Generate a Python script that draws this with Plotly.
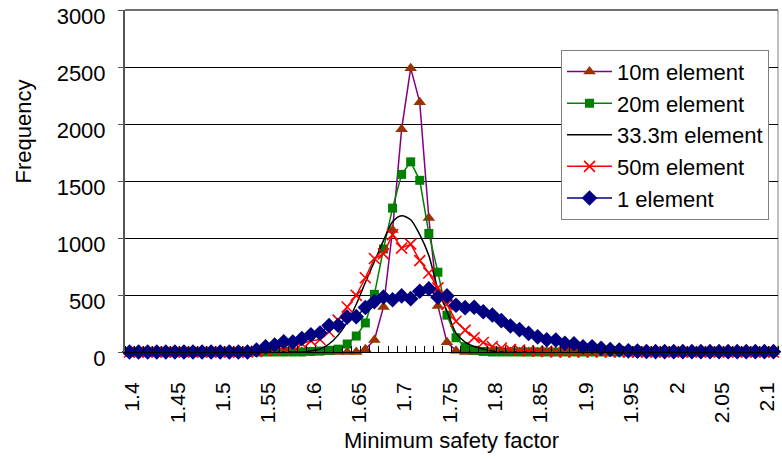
import plotly.graph_objects as go

# Categories (minimum safety factor)
factor = [1.40, 1.41, 1.42, 1.43, 1.44, 1.45, 1.46, 1.47, 1.48, 1.49,
          1.50, 1.51, 1.52, 1.53, 1.54, 1.55, 1.56, 1.57, 1.58, 1.59,
          1.60, 1.61, 1.62, 1.63, 1.64, 1.65, 1.66, 1.67, 1.68, 1.69,
          1.70, 1.71, 1.72, 1.73, 1.74, 1.75, 1.76, 1.77, 1.78, 1.79,
          1.80, 1.81, 1.82, 1.83, 1.84, 1.85, 1.86, 1.87, 1.88, 1.89,
          1.90, 1.91, 1.92, 1.93, 1.94, 1.95, 1.96, 1.97, 1.98, 1.99,
          2.00, 2.01, 2.02, 2.03, 2.04, 2.05, 2.06, 2.07, 2.08, 2.09,
          2.10, 2.11]

tick_values = [1.40, 1.45, 1.50, 1.55, 1.60, 1.65, 1.70, 1.75, 1.80, 1.85,
               1.90, 1.95, 2.00, 2.05, 2.10]
tick_labels = ["1.4", "1.45", "1.5", "1.55", "1.6", "1.65", "1.7", "1.75", "1.8",
               "1.85", "1.9", "1.95", "2", "2.05", "2.1"]

elem_10m = [0, 0, 0, 0, 0, 0, 0, 0, 0, 0,
            0, 0, 0, 0, 0, 0, 0, 0, 0, 0,
            0, 0, 0, 0, 0, 0, 25, 105, 395, 1070,
            1955, 2490, 2190, 1175, 404, 85, 12, 0, 0, 0,
            0, 0, 0, 0, 0, 0, 0, 0, 0, 0,
            0, 0, 0, 0, 0, 0, 0, 0, 0, 0,
            0, 0, 0, 0, 0, 0, 0, 0, 0, 0,
            0, 0]

elem_20m = [0, 0, 0, 0, 0, 0, 0, 0, 0, 0,
            0, 0, 0, 0, 0, 0, 0, 0, 0, 0,
            5, 8, 15, 25, 70, 140, 255, 506, 904, 1262,
            1558, 1668, 1506, 1040, 700, 323, 125, 46, 15, 5,
            0, 0, 0, 0, 0, 0, 0, 0, 0, 0,
            0, 0, 0, 0, 0, 0, 0, 0, 0, 0,
            0, 0, 0, 0, 0, 0, 0, 0, 0, 0,
            0, 0]

elem_33m = [0, 0, 0, 0, 0, 0, 0, 0, 0, 0,
            0, 0, 0, 0, 0, 0, 0, 0, 0, 0,
            9, 26, 70, 148, 262, 419, 610, 794, 977, 1142,
            1195, 1160, 1029, 846, 549, 358, 166, 87, 48, 26,
            9, 0, 0, 0, 0, 0, 0, 0, 0, 0,
            0, 0, 0, 0, 0, 0, 0, 0, 0, 0,
            0, 0, 0, 0, 0, 0, 0, 0, 0, 0,
            0, 0]

elem_50m = [0, 0, 0, 0, 0, 0, 0, 0, 0, 0,
            0, 0, 0, 0, 5, 12, 20, 30, 48, 72,
            98, 110, 178, 279, 395, 497, 651, 820, 861, 1030,
            911, 946, 802, 693, 562, 418, 270, 192, 126, 83,
            48, 35, 22, 17, 10, 8, 5, 0, 0, 0,
            0, 0, 0, 0, 0, 0, 0, 0, 0, 0,
            0, 0, 0, 0, 0, 0, 0, 0, 0, 0,
            0, 0]

elem_1 = [0, 0, 0, 0, 0, 0, 0, 0, 0, 0,
          0, 0, 0, 0, 17, 46, 61, 90, 87, 119,
          151, 166, 233, 235, 306, 310, 390, 442, 482, 458,
          492, 468, 533, 555, 481, 492, 410, 389, 392, 353,
          325, 275, 228, 196, 163, 133, 108, 105, 76, 72,
          46, 46, 32, 22, 17, 10, 8, 5, 3, 3,
          3, 3, 3, 3, 3, 3, 3, 3, 3, 3,
          3, 3]

for s in (elem_10m, elem_20m, elem_33m, elem_50m, elem_1):
    assert len(s) == len(factor)

FONT = "Arial, Liberation Sans, sans-serif"

fig = go.Figure()
fig.add_trace(go.Scatter(
    x=factor, y=elem_10m, name="10m element", mode="lines+markers",
    line=dict(color="#800080", width=1.5),
    marker=dict(symbol="triangle-up", size=11, color="#993300", line=dict(width=0)),
    cliponaxis=False))
fig.add_trace(go.Scatter(
    x=factor, y=elem_20m, name="20m element", mode="lines+markers",
    line=dict(color="#008000", width=1.5),
    marker=dict(symbol="square", size=9, color="#008000", line=dict(width=0)),
    cliponaxis=False))
fig.add_trace(go.Scatter(
    x=factor, y=elem_33m, name="33.3m element", mode="lines",
    line=dict(color="#000000", width=1.5, shape="spline", smoothing=0.8),
    cliponaxis=False))
fig.add_trace(go.Scatter(
    x=factor, y=elem_50m, name="50m element", mode="lines+markers",
    line=dict(color="#FF0000", width=1.5),
    marker=dict(symbol="x-thin", size=11, color="#FF0000",
                line=dict(color="#FF0000", width=1.6)),
    cliponaxis=False))
fig.add_trace(go.Scatter(
    x=factor, y=elem_1, name="1 element", mode="lines+markers",
    line=dict(color="#000080", width=1.5),
    marker=dict(symbol="diamond", size=12, color="#000080", line=dict(width=0)),
    cliponaxis=False))

fig.update_layout(
    width=782, height=459,
    margin=dict(l=125, r=4, t=8, b=107),
    paper_bgcolor="white", plot_bgcolor="white",
    font=dict(family=FONT, size=21, color="black"),
    showlegend=True,
    legend=dict(x=0.6677, y=0.8837, xanchor="left", yanchor="top",
                bgcolor="white", bordercolor="#808080", borderwidth=1,
                font=dict(family=FONT, size=22, color="black"),
                itemwidth=45, traceorder="normal"),
    xaxis=dict(range=[1.395, 2.115], tickmode="array", tickvals=tick_values,
               ticktext=tick_labels, tickangle=-90, ticks="",
               showgrid=False, zeroline=False, showline=True,
               linecolor="black", linewidth=1,
               tickfont=dict(family=FONT, size=21),
               ticklabelstandoff=21, ticklabelshift=3,
               ticklabeloverflow="allow",
               minor=dict(tick0=1.395, dtick=0.01, ticks="inside", ticklen=6,
                          tickcolor="black", showgrid=False)),
    yaxis=dict(range=[0, 3000], dtick=500, tickmode="linear",
               showgrid=True, gridcolor="black", gridwidth=1,
               zeroline=False, showline=True, linecolor="#555555", linewidth=2,
               ticks="outside", ticklen=5, tickcolor="#555555",
               tickfont=dict(family=FONT, size=22),
               ticklabelshift=6, ticklabelstandoff=8,
               ticklabeloverflow="allow"),
    annotations=[
        dict(text="Minimum safety factor", xref="paper", yref="paper",
             x=0.5, y=-0.2587, xanchor="center", yanchor="middle",
             showarrow=False, font=dict(family=FONT, size=22)),
        dict(text="Frequency", xref="paper", yref="paper",
             x=-0.1562, y=0.645, xanchor="center", yanchor="middle",
             textangle=-90, showarrow=False, font=dict(family=FONT, size=22)),
    ],
    shapes=[
        dict(type="line", xref="paper", yref="paper", x0=1, x1=1, y0=0, y1=1,
             line=dict(color="#808080", width=1), layer="below"),
        dict(type="line", xref="paper", yref="paper", x0=0, x1=1, y0=1, y1=1,
             line=dict(color="#404040", width=1.5), layer="below"),
    ],
)

fig.write_html("out.html")
